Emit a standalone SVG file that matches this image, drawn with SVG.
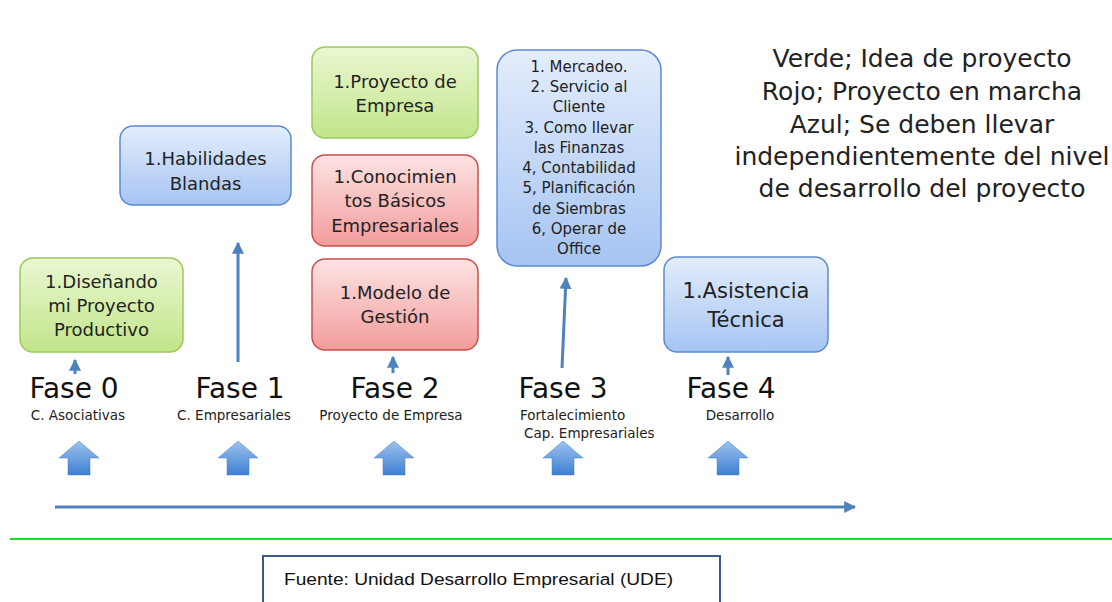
<svg xmlns="http://www.w3.org/2000/svg" width="1112" height="602" viewBox="0 0 1112 602">
<defs>
<linearGradient id="gG" x1="0" y1="0" x2="0" y2="1"><stop offset="0" stop-color="#eaf7d2"/><stop offset="1" stop-color="#c2e58a"/></linearGradient>
<linearGradient id="gR" x1="0" y1="0" x2="0" y2="1"><stop offset="0" stop-color="#fde3e3"/><stop offset="1" stop-color="#f29c9c"/></linearGradient>
<linearGradient id="gB" x1="0" y1="0" x2="0" y2="1"><stop offset="0" stop-color="#e3edfc"/><stop offset="1" stop-color="#a6c4f2"/></linearGradient>
<linearGradient id="gA" x1="0" y1="0" x2="0" y2="1"><stop offset="0" stop-color="#9cc2ee"/><stop offset="1" stop-color="#3f7fd2"/></linearGradient>
<marker id="ah" viewBox="0 0 10 10" refX="9" refY="5" markerWidth="4" markerHeight="4" orient="auto"><path d="M0,0 L10,5 L0,10 z" fill="#4f81bd"/></marker>
<path id="blk" d="M0,0 L20,17 L11,17 L11,34 L-11,34 L-11,17 L-20,17 z"/>
</defs>
<style>
.t{font-family:"DejaVu Sans",sans-serif;fill:#222;text-anchor:middle}
.b{font-size:18px}
.l{font-size:15px}
.f{font-size:28px;fill:#111}
.s{font-size:13.5px}
.lg{font-size:25px}
.g{fill:url(#gG);stroke:#9cc95c;stroke-width:1.5}
.r{fill:url(#gR);stroke:#c9504f;stroke-width:1.5}
.u{fill:url(#gB);stroke:#5c8ad2;stroke-width:1.5}
.c{stroke:#4f81bd;stroke-width:3;fill:none;marker-end:url(#ah)}
.ba{fill:url(#gA);stroke:#4a7fc4;stroke-width:0.5}
</style>
<rect width="1112" height="602" fill="#fff"/>

<g id="n-disenando"><rect class="g" x="20" y="258" width="163" height="94" rx="13"/>
<text class="t b" x="101.5" y="288">1.Diseñando</text><text class="t b" x="101.5" y="312">mi Proyecto</text><text class="t b" x="101.5" y="336">Productivo</text></g>

<g id="n-habilidades"><rect class="u" x="120" y="126" width="171" height="79" rx="13"/>
<text class="t b" x="205.5" y="165">1.Habilidades</text><text class="t b" x="205.5" y="190">Blandas</text></g>

<g id="n-proyecto"><rect class="g" x="312" y="47" width="166" height="91" rx="13"/>
<text class="t b" x="395" y="88">1.Proyecto de</text><text class="t b" x="395" y="112">Empresa</text></g>

<g id="n-conocimientos"><rect class="r" x="312" y="155" width="166" height="91" rx="13"/>
<text class="t b" x="395" y="183">1.Conocimien</text><text class="t b" x="395" y="207">tos Básicos</text><text class="t b" x="395" y="232">Empresariales</text></g>

<g id="n-modelo"><rect class="r" x="312" y="259" width="166" height="91" rx="13"/>
<text class="t b" x="395" y="299">1.Modelo de</text><text class="t b" x="395" y="323">Gestión</text></g>

<g id="n-lista"><rect class="u" x="497" y="50" width="164" height="216" rx="20"/>
<text class="t l" x="579" y="72">1. Mercadeo.</text>
<text class="t l" x="579" y="92">2. Servicio al</text>
<text class="t l" x="579" y="112">Cliente</text>
<text class="t l" x="579" y="133">3. Como llevar</text>
<text class="t l" x="579" y="153">las Finanzas</text>
<text class="t l" x="579" y="173">4, Contabilidad</text>
<text class="t l" x="579" y="193">5, Planificación</text>
<text class="t l" x="579" y="214">de Siembras</text>
<text class="t l" x="579" y="234">6, Operar de</text>
<text class="t l" x="579" y="254">Office</text></g>

<g id="n-asistencia"><rect class="u" x="664" y="257" width="164" height="95" rx="13"/>
<text class="t" style="font-size:21px" x="746" y="298">1.Asistencia</text><text class="t" style="font-size:21px" x="746" y="327">Técnica</text></g>

<g id="legend">
<text class="t lg" x="922" y="67">Verde; Idea de proyecto</text>
<text class="t lg" x="922" y="100">Rojo; Proyecto en marcha</text>
<text class="t lg" x="922" y="133">Azul; Se deben llevar</text>
<text class="t lg" x="922" y="165">independientemente del nivel</text>
<text class="t lg" x="922" y="197">de desarrollo del proyecto</text>
</g>

<g id="fases">
<text class="t f" x="74" y="398">Fase 0</text><text class="t s" x="78" y="420">C. Asociativas</text>
<text class="t f" x="240" y="398">Fase 1</text><text class="t s" x="234" y="420">C. Empresariales</text>
<text class="t f" x="395" y="398">Fase 2</text><text class="t s" x="391" y="420">Proyecto de Empresa</text>
<text class="t f" x="563" y="398">Fase 3</text><text class="t s" style="text-anchor:start" x="520" y="420">Fortalecimiento</text><text class="t s" style="text-anchor:start" x="524" y="438">Cap. Empresariales</text>
<text class="t f" x="731" y="398">Fase 4</text><text class="t s" x="740" y="420">Desarrollo</text>
</g>

<g id="connectors">
<line class="c" x1="75" y1="374" x2="75" y2="360"/>
<line class="c" x1="238" y1="362" x2="238" y2="243"/>
<line class="c" x1="393" y1="373" x2="393" y2="357"/>
<line class="c" x1="562" y1="368" x2="566" y2="278"/>
<line class="c" x1="728" y1="375" x2="728" y2="357"/>
<line class="c" x1="55" y1="507" x2="855" y2="507"/>
<use href="#blk" class="ba" x="79" y="441"/>
<use href="#blk" class="ba" x="238" y="441"/>
<use href="#blk" class="ba" x="394" y="441"/>
<use href="#blk" class="ba" x="563" y="441"/>
<use href="#blk" class="ba" x="728" y="441"/>
</g>

<line x1="10" y1="539" x2="1112" y2="539" stroke="#22dd22" stroke-width="2"/>
<g id="fuente">
<path d="M263,602 L263,556 L720,556 L720,602" fill="none" stroke="#3a5a8c" stroke-width="2"/>
<text x="284" y="585" style="font-family:'Liberation Sans',sans-serif;font-size:16px;fill:#111" textLength="389" lengthAdjust="spacingAndGlyphs">Fuente: Unidad Desarrollo Empresarial (UDE)</text>
</g>
</svg>
